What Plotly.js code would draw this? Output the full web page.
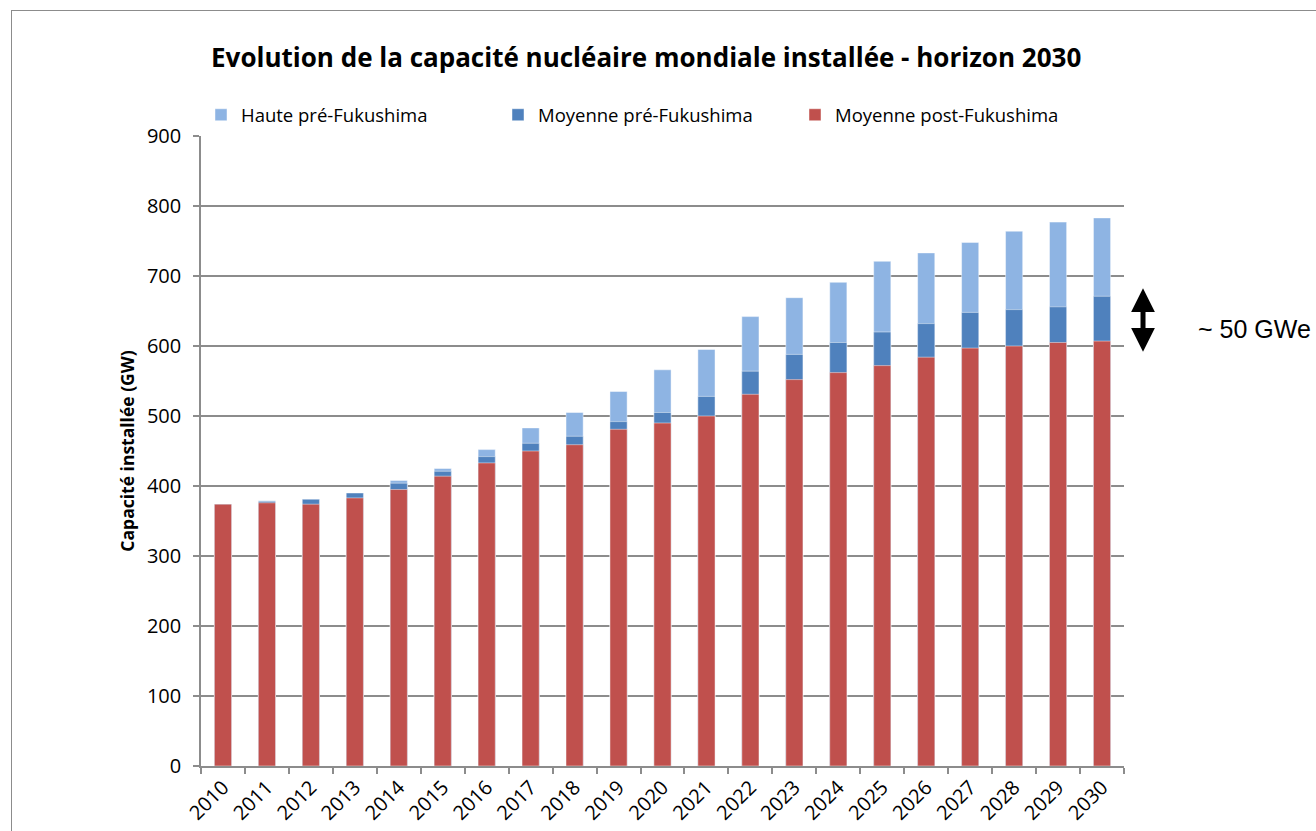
<!DOCTYPE html>
<html>
<head>
<meta charset="utf-8">
<script src="https://cdn.plot.ly/plotly-3.0.1.min.js"></script>
<style>
  html, body { margin: 0; padding: 0; background: #ffffff; }
  #chart { width: 1316px; height: 831px; position: relative; }
  #frame { position: absolute; left: 11px; top: 10px; width: 1400px; height: 900px;
           border: 1.5px solid #8c8c8c; pointer-events: none; box-sizing: border-box; }
</style>
</head>
<body>
<div id="chart"></div>
<div id="frame"></div>
<script>
// ---- data ----
const years = ['2010','2011','2012','2013','2014','2015','2016','2017','2018','2019','2020',
               '2021','2022','2023','2024','2025','2026','2027','2028','2029','2030'];
const hautePre   = [374, 379, 381, 390, 408, 425, 452, 483, 505, 535, 566, 595, 642, 669, 691, 721, 733, 748, 764, 777, 783];
const moyennePre = [374, 378, 381, 390, 404, 421, 442, 461, 471, 492, 505, 528, 564, 588, 605, 620, 632, 648, 652, 656, 671];
const moyennePost= [374, 376, 374, 383, 395, 414, 433, 450, 459, 481, 490, 500, 531, 552, 562, 572, 584, 597, 600, 605, 607];
const seriesNames = ['Haute pré-Fukushima', 'Moyenne pré-Fukushima', 'Moyenne post-Fukushima'];
const seriesColors = ['#8EB4E3', '#4F81BD', '#C0504D'];
const yTicks = [0,100,200,300,400,500,600,700,800,900];
const titleText = 'Evolution de la capacité nucléaire mondiale installée - horizon 2030';
const yTitleText = 'Capacité installée (GW)';
const noteText = '~ 50 GWe';

const seriesValues = [hautePre, moyennePre, moyennePost];
const traces = seriesValues.map((vals, i) => ({
  type: 'bar',
  x: years,
  y: vals,
  name: seriesNames[i],
  marker: { color: seriesColors[i], line: { color: 'rgba(255,255,255,0.45)', width: 1 } },
  hoverinfo: 'x+y+name'
}));

const FONT = '"Open Sans", Lato, sans-serif';

const layout = {
  width: 1316, height: 831,
  margin: { l: 201, r: 192, t: 136, b: 65, pad: 0 },
  paper_bgcolor: 'rgba(0,0,0,0)',
  plot_bgcolor: '#ffffff',
  barmode: 'overlay',
  bargap: 0.61,
  font: { family: FONT, color: '#000000' },
  title: {
    text: '<b>' + titleText + '</b>',
    font: { family: FONT, size: 26, color: '#000000' },
    x: 0.491, xref: 'container', xanchor: 'center',
    y: 0.930, yref: 'container', yanchor: 'middle'
  },
  showlegend: true,
  legend: {
    orientation: 'h',
    x: 0.0, xanchor: 'left',
    y: 1.033, yanchor: 'middle',
    font: { family: FONT, size: 18.5, color: '#000000' },
    entrywidth: 252, entrywidthmode: 'pixels',
    traceorder: 'normal',
    bgcolor: 'rgba(0,0,0,0)'
  },
  xaxis: {
    type: 'category',
    tickangle: -45,
    tickfont: { family: FONT, size: 20, color: '#000000' },
    showline: true, linecolor: '#8c8c8c', linewidth: 1.5,
    ticks: 'outside', tickson: 'boundaries', ticklen: 6, tickcolor: '#8c8c8c', tickwidth: 1.5,
    showgrid: false, zeroline: false,
    fixedrange: true
  },
  yaxis: {
    range: [0, 900],
    tickvals: yTicks,
    ticktext: yTicks.map(String),
    tickfont: { family: FONT, size: 20, color: '#000000' },
    ticklabelstandoff: 8,
    showline: true, linecolor: '#8c8c8c', linewidth: 1.5,
    ticks: 'outside', ticklen: 6, tickcolor: '#8c8c8c', tickwidth: 1.5,
    showgrid: true, gridcolor: '#8c8c8c', gridwidth: 1.6,
    zeroline: false,
    title: { text: '<b>' + yTitleText + '</b>', font: { family: FONT, size: 17.5, color: '#000000' }, standoff: 8 },
    fixedrange: true
  },
  annotations: [
    {
      xref: 'paper', yref: 'paper',
      x: 1.0206, y: 0.7584,
      axref: 'pixel', ayref: 'pixel',
      ax: 0, ay: 65,
      showarrow: true, arrowhead: 2, arrowside: 'end+start',
      arrowsize: 0.95, arrowwidth: 5, arrowcolor: '#000000',
      standoff: 0, startstandoff: 0,
      text: ''
    },
    {
      xref: 'paper', yref: 'paper',
      x: 1.078, y: 0.6933, xanchor: 'left', yanchor: 'middle',
      showarrow: false,
      text: noteText,
      font: { family: '"Liberation Sans", Arial, sans-serif', size: 25, color: '#000000' }
    }
  ]
};

Plotly.newPlot('chart', traces, layout, { displayModeBar: false, staticPlot: false });
</script>
</body>
</html>
